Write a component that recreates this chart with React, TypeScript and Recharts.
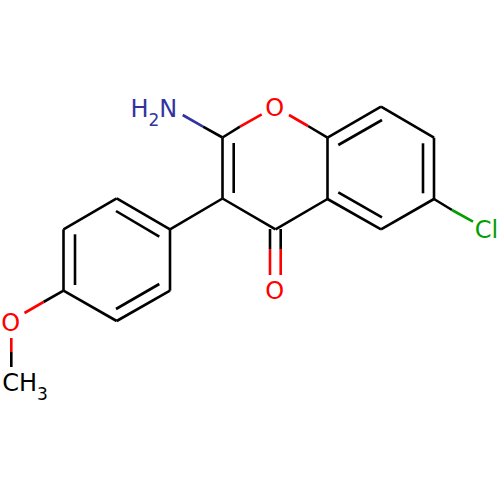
import React from 'react';
import { ComposedChart, Line, Scatter, XAxis, YAxis } from 'recharts';

// each bond piece: [x1, y1, x2, y2]
type Seg = [number, number, number, number];

const blackBonds: Seg[] = [
  // pyranone ring
  [203, 126.7, 222.5, 137.5],
  [222.5, 137.5, 240, 126.7],
  [222.5, 137.5, 222.5, 198.5],
  [233.7, 143, 233.7, 193],
  [222.5, 198.5, 275.5, 229.3],
  [275.5, 229.3, 327.5, 199],
  [308, 126, 327.5, 137.7],
  [327.5, 137.7, 327.5, 199],
  // chlorophenyl ring
  [327.5, 137.7, 381, 106.7],
  [338.3, 145, 382, 120],
  [381, 106.7, 434, 137.7],
  [434, 137.7, 434, 199],
  [423, 143.3, 423, 193.3],
  [434, 199, 381, 229.3],
  [381, 229.3, 327.5, 199],
  [382, 217.3, 338.3, 192.3],
  [434, 199, 452, 210],
  // carbonyl
  [270, 229, 270, 249],
  [280.7, 229, 280.7, 249],
  // methoxyphenyl ring
  [222.5, 198.5, 170, 229.3],
  [170, 229.3, 170, 290.7],
  [170, 229.3, 116.7, 198.3],
  [159.3, 236.7, 116, 211],
  [116.7, 198.3, 63.5, 229.3],
  [63.5, 229.3, 63.5, 290.7],
  [75, 234.3, 75, 285],
  [63.5, 290.7, 116.7, 321],
  [116.7, 321, 170, 290.7],
  [116, 309, 159.3, 284],
  [63.5, 290.7, 43.5, 302],
  [11.3, 352, 11.3, 367],
];

const redBonds: Seg[] = [
  [240, 126.7, 261.7, 114.3],
  [289, 115, 308, 126],
  [270, 249, 270, 275],
  [280.7, 249, 280.7, 275],
  [43.5, 302, 24.5, 313],
  [11.3, 338, 11.3, 352],
];

const blueBonds: Seg[] = [[182.7, 115, 203, 126.7]];
const greenBonds: Seg[] = [[452, 210, 473, 221.7]];

const nitrogenLabels = [{ x: 130.4, y: 116.7, text: 'H2N' }];
const oxygenLabels = [
  { x: 265.2, y: 116.3, text: 'O' },
  { x: 265.2, y: 299, text: 'O' },
  { x: 1.2, y: 330.7, text: 'O' },
];
const chlorineLabels = [{ x: 474.7, y: 238, text: 'Cl' }];
const carbonLabels = [{ x: 2.2, y: 390.7, text: 'CH3' }];

const AtomLabel = (fill: string) => (props: any) => {
  const parts = String(props.payload.text).split(/(\d)/).filter(Boolean);
  return (
    <text x={props.cx} y={props.cy} fill={fill} fontFamily="DejaVu Sans" fontSize={24}>
      {parts.map((p: string, i: number) =>
        /\d/.test(p) ? (
          <tspan key={i} fontSize={17} dy={9}>{p}</tspan>
        ) : (
          <tspan key={i} dy={i > 0 ? -9 : 0}>{p}</tspan>
        ),
      )}
    </text>
  );
};

const bondLines = (segs: Seg[], color: string, name: string) =>
  segs.map((s, i) => (
    <Line
      key={`${name}-${i}`}
      data={[{ x: s[0], y: s[1] }, { x: s[2], y: s[3] }]}
      dataKey="y"
      type="linear"
      stroke={color}
      strokeWidth={2.6}
      strokeLinecap="butt"
      dot={false}
      activeDot={false}
      legendType="none"
      isAnimationActive={false}
    />
  ));

const App = () => (
  <div style={{ position: 'absolute', left: 0, top: 0, width: 500, height: 500, background: '#fff' }}>
    <ComposedChart width={500} height={500} margin={{ top: 0, right: 0, bottom: 0, left: 0 }}>
      <XAxis type="number" dataKey="x" domain={[0, 500]} hide />
      <YAxis type="number" dataKey="y" domain={[0, 500]} reversed hide />
      {bondLines(blackBonds, '#000000', 'c')}
      {bondLines(redBonds, '#ff0000', 'o')}
      {bondLines(blueBonds, '#33339f', 'n')}
      {bondLines(greenBonds, '#00a000', 'cl')}
      <Scatter data={nitrogenLabels} dataKey="y" shape={AtomLabel('#33339f')} isAnimationActive={false} />
      <Scatter data={oxygenLabels} dataKey="y" shape={AtomLabel('#ff0000')} isAnimationActive={false} />
      <Scatter data={chlorineLabels} dataKey="y" shape={AtomLabel('#00a000')} isAnimationActive={false} />
      <Scatter data={carbonLabels} dataKey="y" shape={AtomLabel('#000000')} isAnimationActive={false} />
    </ComposedChart>
  </div>
);

export default App;
